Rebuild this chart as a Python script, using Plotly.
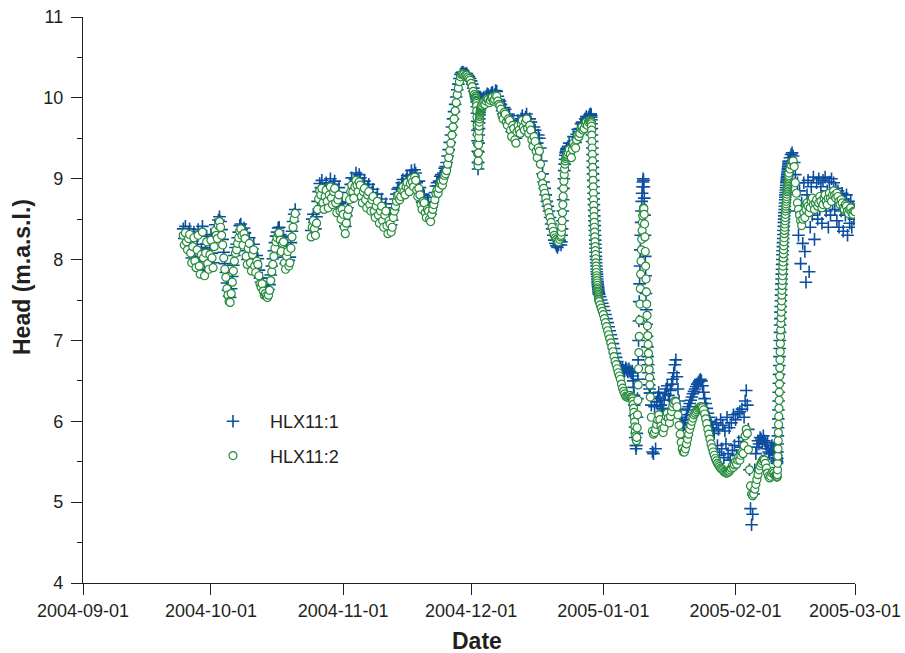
import pandas as pd
import plotly.graph_objects as go

# Groundwater head (m.a.s.l.) at two levels of borehole HLX11.
# Each logging period: start time, sampling interval (hours).
PERIODS = [
    ("2004-09-24 12:00", 6),
    ("2004-10-24 12:00", 6),
    ("2004-12-02 00:00", 1),
    ("2004-12-03 12:00", 6),
    ("2004-12-22 00:00", 2),
    ("2004-12-23 12:00", 6),
    ("2004-12-29 00:00", 1),
    ("2004-12-31 00:00", 6),
    ("2005-01-07 18:00", 2),
    ("2005-01-12 00:00", 6),
    ("2005-02-10 12:00", 1),
    ("2005-02-13 12:00", 6),
]

# ---- HLX11:2 ----
hlx2_sep = [
    8.30, 8.18,
    8.33, 8.22, 8.12, 8.26, 8.31, 8.08, 7.96, 8.16, 8.27, 7.98, 7.90, 8.12,
    8.30, 7.92, 7.82, 8.06, 8.34, 8.02, 7.80, 8.08, 8.22, 7.95, 7.88, 8.06,
    8.24, 8.02, 7.90, 8.16, 8.36, 8.30, 8.26, 8.42, 8.47, 8.40, 8.30, 8.18,
    8.02, 7.88, 7.78, 7.64, 7.56, 7.48, 7.47, 7.58, 7.72, 7.86, 7.98, 8.08,
    8.12, 8.20, 8.27, 8.35, 8.38, 8.30, 8.18, 8.32, 8.26, 8.04, 7.94, 8.14,
    8.20, 7.96, 7.86, 8.06, 8.12, 7.92, 7.84, 7.98, 7.94, 7.80, 7.70, 7.66,
    7.70, 7.61, 7.56, 7.58, 7.55, 7.53, 7.56, 7.62, 7.74, 7.85, 7.94, 8.04,
    8.14, 8.22, 8.27, 8.32, 8.33, 8.24, 8.10, 8.20, 8.22, 7.96, 7.88, 8.04,
    8.10, 7.92, 7.96, 8.14, 8.28, 8.40, 8.50, 8.57,
]
hlx2_nov = [
    8.28, 8.40,
    8.48, 8.38, 8.30, 8.45, 8.62, 8.75, 8.85, 8.80, 8.88, 8.70, 8.62, 8.78,
    8.86, 8.72, 8.64, 8.80, 8.90, 8.76, 8.68, 8.84, 8.88, 8.70, 8.58, 8.74,
    8.80, 8.60, 8.50, 8.62, 8.56, 8.40, 8.32, 8.45, 8.55, 8.62, 8.74, 8.84,
    8.92, 8.84, 8.76, 8.90, 8.98, 8.92, 8.84, 8.96, 8.92, 8.78, 8.70, 8.84,
    8.88, 8.74, 8.64, 8.80, 8.84, 8.68, 8.60, 8.74, 8.78, 8.60, 8.52, 8.66,
    8.72, 8.55, 8.45, 8.60, 8.66, 8.48, 8.40, 8.55, 8.60, 8.42, 8.32, 8.48,
    8.44, 8.34, 8.40, 8.52, 8.60, 8.66, 8.72, 8.78, 8.80, 8.74, 8.78, 8.86,
    8.90, 8.84, 8.80, 8.90, 8.95, 8.88, 8.84, 8.94, 9.00, 8.96, 8.90, 9.02,
    8.98, 8.86, 8.78, 8.88, 8.80, 8.68, 8.62, 8.72, 8.70, 8.58, 8.52, 8.62,
    8.60, 8.50, 8.47, 8.56, 8.62, 8.68, 8.74, 8.82, 8.86, 8.82, 8.88, 8.94,
    8.96, 8.92, 8.98, 9.04, 9.06, 9.10, 9.18, 9.26, 9.35, 9.44, 9.54, 9.64,
    9.74, 9.84, 9.94, 10.04, 10.12, 10.20, 10.26, 10.29, 10.30, 10.29, 10.27, 10.28,
    10.28, 10.26, 10.24, 10.22, 10.18, 10.14, 10.08, 10.04,
]
hlx2_dec02 = [
    10.02, 10.00, 9.99, 9.97, 9.96, 9.95, 9.93, 9.90, 9.84, 9.76, 9.66, 9.55,
    9.43, 9.31, 9.20, 9.16, 9.22, 9.32, 9.42, 9.51, 9.59, 9.65, 9.70, 9.74,
    9.77, 9.79, 9.81, 9.83, 9.84, 9.85, 9.86, 9.87, 9.88, 9.89, 9.90, 9.90,
]
hlx2_dec03 = [
    9.91, 9.93,
    9.95, 9.92, 9.96, 9.99, 9.98, 9.94, 9.97, 10.00, 10.01, 9.96, 9.98, 10.03,
    10.02, 9.96, 9.92, 9.90, 9.86, 9.78, 9.74, 9.82, 9.80, 9.70, 9.66, 9.74,
    9.72, 9.60, 9.52, 9.66, 9.62, 9.48, 9.44, 9.58, 9.66, 9.60, 9.56, 9.68,
    9.72, 9.64, 9.60, 9.70, 9.74, 9.62, 9.56, 9.66, 9.60, 9.48, 9.40, 9.52,
    9.46, 9.34, 9.26, 9.38, 9.34, 9.18, 9.04, 8.94, 8.88, 8.82, 8.76, 8.70,
    8.64, 8.58, 8.52, 8.46, 8.40, 8.35, 8.30, 8.27, 8.25, 8.23, 8.22, 8.25,
]
hlx2_dec22 = [
    8.28, 8.30, 8.34, 8.40, 8.48, 8.58, 8.68, 8.78, 8.88, 8.97, 9.05, 9.12,
    9.18, 9.22, 9.25, 9.27, 9.28, 9.30,
]
hlx2_dec23 = [
    9.30, 9.32,
    9.36, 9.30, 9.26, 9.36, 9.44, 9.40, 9.38, 9.48, 9.54, 9.52, 9.56, 9.62,
    9.64, 9.60, 9.62, 9.68, 9.70, 9.66, 9.70, 9.72,
]
hlx2_dec29 = [
    9.72, 9.72, 9.71, 9.70, 9.68, 9.65, 9.60, 9.54,
    9.46, 9.38, 9.30, 9.22, 9.14, 9.06, 8.98, 8.90,
    8.82, 8.74, 8.67, 8.60, 8.53, 8.46, 8.40, 8.34,
    8.28, 8.22, 8.16, 8.11, 8.06, 8.01, 7.96, 7.92,
    7.88, 7.84, 7.80, 7.77, 7.74, 7.71, 7.68, 7.65,
    7.63, 7.61, 7.59, 7.57, 7.55, 7.53, 7.51, 7.50,
]
hlx2_dec31 = [
    7.48, 7.44, 7.40, 7.36, 7.32, 7.27, 7.22, 7.17, 7.12, 7.07, 7.02, 6.97,
    6.92, 6.86, 6.80, 6.74, 6.70, 6.65, 6.60, 6.56, 6.52, 6.46, 6.41, 6.37,
    6.34, 6.31, 6.30, 6.30, 6.31, 6.32, 6.30,
]
hlx2_jan07 = [
    6.30, 6.28, 6.25, 6.21, 6.16, 6.11, 6.05, 5.99, 5.93, 5.87, 5.82, 5.78,
    5.76, 5.80, 5.92, 6.08, 6.26, 6.45, 6.65, 6.85, 7.05, 7.25, 7.45, 7.64,
    7.82, 7.98, 8.12, 8.25, 8.36, 8.46, 8.54, 8.60, 8.64, 8.63, 8.56, 8.44,
    8.28, 8.10, 7.92, 7.76, 7.60, 7.45, 7.31, 7.18, 7.06, 6.95, 6.84, 6.74,
    6.64, 6.54, 6.45,
]
hlx2_jan12 = [
    6.30, 6.05, 5.88, 5.84, 5.86, 5.90, 5.96, 6.02, 6.08, 6.02, 5.94, 5.90,
    5.86, 5.92, 6.00, 6.06, 6.10, 6.04, 5.98, 6.06, 6.12, 6.18, 6.22, 6.25,
    6.24, 6.18, 6.08, 5.95, 5.84, 5.74, 5.66, 5.62, 5.62, 5.66, 5.72, 5.78,
    5.84, 5.90, 5.95, 6.00, 6.04, 6.08, 6.10, 6.12, 6.14, 6.16, 6.17, 6.18,
    6.18, 6.17, 6.14, 6.09, 6.03, 5.97, 5.90, 5.84, 5.78, 5.72, 5.67, 5.62,
    5.58, 5.54, 5.51, 5.48, 5.46, 5.44, 5.42, 5.41, 5.40, 5.38, 5.37, 5.36,
    5.36, 5.37, 5.38, 5.40, 5.42, 5.45, 5.43, 5.46, 5.50, 5.47, 5.52, 5.56,
    5.52, 5.58, 5.62, 5.60, 5.70, 5.82, 5.90, 5.85, 5.65, 5.40, 5.20, 5.10,
    5.08, 5.10, 5.16, 5.22, 5.28, 5.34, 5.40, 5.45, 5.48, 5.51, 5.53, 5.52,
    5.48, 5.42, 5.36, 5.32, 5.30, 5.32, 5.36, 5.38, 5.36, 5.33,
]
hlx2_feb10 = [
    5.34, 5.33, 5.32, 5.32, 5.31, 5.31, 5.32, 5.34, 5.40, 5.48, 5.57, 5.66,
    5.76, 5.86, 5.96, 6.06, 6.16, 6.26, 6.36, 6.46, 6.56, 6.66, 6.76, 6.86,
    6.96, 7.05, 7.13, 7.21, 7.28, 7.35, 7.42, 7.49, 7.56, 7.62, 7.68, 7.74,
    7.80, 7.86, 7.92, 7.97, 8.02, 8.07, 8.12, 8.17, 8.22, 8.27, 8.32, 8.36,
    8.40, 8.44, 8.48, 8.52, 8.56, 8.60, 8.63, 8.66, 8.69, 8.72, 8.75, 8.78,
    8.81, 8.84, 8.86, 8.88, 8.90, 8.92, 8.94, 8.96, 8.98, 9.00, 9.02, 9.04,
]
hlx2_feb13 = [
    9.07, 9.12,
    9.17, 9.21, 9.22, 9.15, 8.95, 8.82, 8.70, 8.62, 8.55, 8.48, 8.42, 8.50,
    8.58, 8.52, 8.62, 8.70, 8.66, 8.58, 8.64, 8.72, 8.76, 8.68, 8.62, 8.70,
    8.74, 8.66, 8.70, 8.78, 8.72, 8.64, 8.68, 8.76, 8.80, 8.72, 8.68, 8.76,
    8.82, 8.76, 8.72, 8.80, 8.85, 8.80, 8.76, 8.82, 8.78, 8.72, 8.68, 8.74,
    8.70, 8.64, 8.62, 8.68, 8.66, 8.60, 8.57, 8.62, 8.64, 8.58, 8.56, 8.60,
    8.59,
]

# ---- HLX11:1 ----
hlx1_sep = [
    8.38, 8.26,
    8.41, 8.29, 8.18, 8.33, 8.38, 8.14, 8.02, 8.23, 8.34, 8.04, 7.96, 8.19,
    8.37, 7.98, 7.88, 8.13, 8.41, 8.08, 7.86, 8.15, 8.29, 8.01, 7.94, 8.13,
    8.31, 8.08, 7.96, 8.23, 8.43, 8.37, 8.33, 8.49, 8.53, 8.47, 8.37, 8.25,
    8.09, 7.95, 7.84, 7.71, 7.62, 7.55, 7.53, 7.64, 7.79, 7.93, 8.05, 8.15,
    8.19, 8.27, 8.34, 8.42, 8.44, 8.37, 8.25, 8.39, 8.33, 8.11, 8.00, 8.21,
    8.27, 8.03, 7.92, 8.13, 8.19, 7.99, 7.90, 8.05, 8.01, 7.87, 7.77, 7.72,
    7.77, 7.68, 7.62, 7.65, 7.62, 7.60, 7.63, 7.69, 7.81, 7.92, 8.01, 8.11,
    8.21, 8.29, 8.34, 8.39, 8.40, 8.31, 8.17, 8.27, 8.29, 8.03, 7.95, 8.11,
    8.17, 7.99, 8.03, 8.21, 8.35, 8.47, 8.56, 8.62,
]
hlx1_nov = [
    8.36, 8.50,
    8.56, 8.46, 8.38, 8.53, 8.72, 8.84, 8.94, 8.89, 8.98, 8.79, 8.71, 8.87,
    8.95, 8.81, 8.73, 8.89, 9.00, 8.85, 8.77, 8.93, 8.97, 8.79, 8.67, 8.83,
    8.89, 8.69, 8.59, 8.71, 8.65, 8.49, 8.41, 8.54, 8.64, 8.71, 8.83, 8.93,
    9.01, 8.93, 8.85, 8.99, 9.07, 9.01, 8.93, 9.05, 9.01, 8.87, 8.79, 8.93,
    8.97, 8.83, 8.73, 8.89, 8.93, 8.77, 8.69, 8.83, 8.87, 8.69, 8.61, 8.75,
    8.81, 8.64, 8.54, 8.69, 8.75, 8.57, 8.49, 8.64, 8.69, 8.51, 8.41, 8.57,
    8.53, 8.43, 8.49, 8.61, 8.69, 8.75, 8.81, 8.87, 8.89, 8.83, 8.87, 8.95,
    8.99, 8.93, 8.89, 8.99, 9.04, 8.97, 8.93, 9.03, 9.10, 9.05, 8.99, 9.11,
    9.07, 8.95, 8.87, 8.97, 8.89, 8.77, 8.71, 8.81, 8.79, 8.67, 8.61, 8.71,
    8.69, 8.59, 8.56, 8.65, 8.71, 8.77, 8.83, 8.91, 8.95, 8.91, 8.97, 9.03,
    9.05, 9.01, 9.07, 9.13, 9.15, 9.20, 9.28, 9.36, 9.45, 9.54, 9.64, 9.74,
    9.83, 9.92, 10.01, 10.10, 10.17, 10.24, 10.29, 10.31, 10.32, 10.31, 10.29, 10.30,
    10.30, 10.28, 10.26, 10.24, 10.21, 10.17, 10.12, 10.08,
]
hlx1_dec02 = [
    10.07, 10.05, 10.04, 10.02, 10.01, 10.00, 9.98, 9.95, 9.89, 9.81, 9.71, 9.60,
    9.47, 9.34, 9.20, 9.12, 9.20, 9.33, 9.44, 9.54, 9.62, 9.69, 9.74, 9.79,
    9.82, 9.85, 9.87, 9.89, 9.90, 9.91, 9.92, 9.93, 9.94, 9.95, 9.96, 9.96,
]
hlx1_dec03 = [
    9.97, 9.99,
    10.01, 9.98, 10.02, 10.05, 10.04, 10.00, 10.03, 10.06, 10.07, 10.02, 10.04, 10.09,
    10.08, 10.02, 9.98, 9.96, 9.92, 9.84, 9.80, 9.88, 9.86, 9.76, 9.72, 9.80,
    9.78, 9.66, 9.58, 9.72, 9.68, 9.54, 9.50, 9.64, 9.72, 9.66, 9.62, 9.74,
    9.78, 9.70, 9.66, 9.76, 9.80, 9.70, 9.64, 9.74, 9.70, 9.60, 9.54, 9.64,
    9.60, 9.50, 9.44, 9.54, 9.50, 9.38, 9.22, 9.06, 8.96, 8.88, 8.80, 8.72,
    8.66, 8.60, 8.52, 8.44, 8.38, 8.30, 8.24, 8.20, 8.17, 8.15, 8.18, 8.24,
]
hlx1_dec22 = [
    8.22, 8.18, 8.22, 8.30, 8.38, 8.48, 8.60, 8.74, 8.88, 9.00, 9.10, 9.18,
    9.24, 9.29, 9.32, 9.34, 9.36, 9.37,
]
hlx1_dec23 = [
    9.38, 9.40,
    9.44, 9.38, 9.34, 9.44, 9.52, 9.47, 9.45, 9.55, 9.61, 9.58, 9.62, 9.68,
    9.70, 9.66, 9.68, 9.74, 9.77, 9.72, 9.76, 9.79,
]
hlx1_dec29 = [
    9.80, 9.80, 9.79, 9.78, 9.76, 9.73, 9.68, 9.62,
    9.54, 9.46, 9.38, 9.30, 9.22, 9.14, 9.06, 8.98,
    8.90, 8.82, 8.75, 8.68, 8.61, 8.54, 8.48, 8.42,
    8.36, 8.30, 8.24, 8.19, 8.14, 8.09, 8.04, 8.00,
    7.96, 7.92, 7.88, 7.85, 7.82, 7.79, 7.76, 7.73,
    7.71, 7.69, 7.67, 7.65, 7.63, 7.61, 7.59, 7.58,
]
hlx1_dec31 = [
    7.57, 7.54, 7.50, 7.46, 7.42, 7.37, 7.32, 7.27, 7.22, 7.17, 7.12, 7.07,
    7.02, 6.96, 6.90, 6.84, 6.79, 6.74, 6.70, 6.68, 6.66, 6.64, 6.66, 6.63,
    6.62, 6.66, 6.64, 6.61, 6.65, 6.62, 6.60,
]
hlx1_jan07 = [
    6.62, 6.60, 6.56, 6.50, 6.42, 6.32, 6.20, 6.07, 5.93, 5.80, 5.70, 5.66,
    5.70, 5.85, 6.05, 6.28, 6.52, 6.76, 7.00, 7.24, 7.48, 7.70, 7.92, 8.12,
    8.30, 8.46, 8.60, 8.72, 8.82, 8.90, 8.96, 9.00, 8.98, 8.90, 8.76, 8.55,
    8.30, 8.04, 7.80, 7.58, 7.38, 7.20, 7.05, 6.92, 6.80, 6.70, 6.60, 6.52,
    6.45, 6.40, 6.35,
]
hlx1_jan12 = [
    6.35, 6.20, 5.62, 5.60, 6.18, 5.66, 6.24, 6.30, 6.36, 6.28, 6.20, 6.16,
    6.14, 6.26, 6.34, 6.40, 6.44, 6.32, 6.26, 6.38, 6.46, 6.52, 6.60, 6.70,
    6.76, 6.55, 6.40, 6.25, 6.15, 6.05, 5.98, 5.95, 5.96, 6.02, 6.08, 6.14,
    6.18, 6.22, 6.26, 6.30, 6.34, 6.37, 6.40, 6.43, 6.46, 6.48, 6.50, 6.52,
    6.50, 6.44, 6.36, 6.28, 6.22, 6.16, 6.10, 6.05, 6.00, 5.96, 5.92, 5.88,
    5.85, 5.62, 5.98, 5.70, 5.90, 5.58, 6.02, 5.66, 5.95, 5.55, 5.88, 5.72,
    6.05, 5.60, 5.92, 5.52, 5.98, 5.64, 6.08, 5.70, 6.02, 5.58, 6.10, 5.75,
    6.12, 5.68, 6.15, 5.80, 6.05, 6.25, 6.38, 6.20, 5.90, 5.40, 4.92, 4.72,
    4.85, 5.10, 5.40, 5.60, 5.68, 5.76, 5.72, 5.80, 5.78, 5.74, 5.82, 5.76,
    5.72, 5.66, 5.74, 5.62, 5.60, 5.66, 5.70, 5.64, 5.66, 5.60,
]
hlx1_feb10 = [
    5.62, 5.58, 5.55, 5.52, 5.50, 5.48, 5.50, 5.54, 5.62, 5.72, 5.82, 5.92,
    6.03, 6.14, 6.25, 6.36, 6.47, 6.58, 6.69, 6.80, 6.90, 7.00, 7.10, 7.19,
    7.27, 7.35, 7.42, 7.49, 7.56, 7.63, 7.70, 7.76, 7.82, 7.88, 7.94, 8.00,
    8.06, 8.11, 8.16, 8.21, 8.26, 8.31, 8.36, 8.41, 8.46, 8.50, 8.54, 8.58,
    8.62, 8.66, 8.70, 8.74, 8.77, 8.80, 8.83, 8.86, 8.89, 8.92, 8.95, 8.97,
    8.99, 9.01, 9.03, 9.05, 9.07, 9.09, 9.11, 9.13, 9.15, 9.17, 9.19, 9.21,
]
hlx1_feb13 = [
    9.22, 9.26,
    9.30, 9.32, 9.28, 9.20, 9.05, 8.60, 8.95, 8.30, 8.85, 7.95, 8.70, 8.20,
    8.95, 8.10, 7.72, 8.80, 8.98, 7.85, 8.40, 8.90, 8.55, 9.02, 8.25, 8.70,
    8.95, 8.50, 9.00, 8.62, 8.90, 8.45, 8.98, 8.70, 9.02, 8.60, 8.85, 8.40,
    8.96, 8.55, 9.00, 8.70, 8.95, 8.62, 8.88, 8.48, 8.85, 8.40, 8.78, 8.60,
    8.82, 8.35, 8.75, 8.55, 8.80, 8.30, 8.68, 8.45, 8.72, 8.40, 8.65, 8.50,
    8.62,
]

hlx1_parts = [hlx1_sep, hlx1_nov, hlx1_dec02, hlx1_dec03, hlx1_dec22, hlx1_dec23,
              hlx1_dec29, hlx1_dec31, hlx1_jan07, hlx1_jan12, hlx1_feb10, hlx1_feb13]
hlx2_parts = [hlx2_sep, hlx2_nov, hlx2_dec02, hlx2_dec03, hlx2_dec22, hlx2_dec23,
              hlx2_dec29, hlx2_dec31, hlx2_jan07, hlx2_jan12, hlx2_feb10, hlx2_feb13]


def build(parts):
    times, heads = [], []
    for (start, step), vals in zip(PERIODS, parts):
        times.extend(pd.date_range(start, periods=len(vals), freq=f"{step}h"))
        heads.extend(vals)
    return times, heads


t1, h1 = build(hlx1_parts)
t2, h2 = build(hlx2_parts)

BLUE = "#0c4fa0"
GREEN = "#248a3a"
INK = "#231f20"
FONT = "Liberation Sans, Arial, sans-serif"

fig = go.Figure()
fig.add_trace(go.Scatter(
    x=t1, y=h1, mode="markers", name="HLX11:1", legendgroup="a",
    marker=dict(symbol="cross-thin", size=9, line=dict(color=BLUE, width=1.6)),
))
fig.add_trace(go.Scatter(
    x=t2, y=h2, mode="markers", name="HLX11:2", legendgroup="b",
    marker=dict(symbol="circle", size=8, color="white",
                line=dict(color=GREEN, width=1.2)),
))

fig.update_layout(
    width=905, height=653,
    margin=dict(l=83, r=50, t=17, b=70),
    paper_bgcolor="white", plot_bgcolor="white",
    font=dict(family=FONT, size=18, color=INK),
    showlegend=True,
    legend=dict(x=(196 - 83) / 772, y=(583 - 403) / 566, xanchor="left", yanchor="top",
                bgcolor="rgba(0,0,0,0)", itemwidth=64, tracegroupgap=8,
                traceorder="grouped", font=dict(size=18, color=INK)),
    annotations=[
        dict(text="<b>Date</b>", x=(477 - 83) / 772, y=(583 - 641) / 566,
             xref="paper", yref="paper", showarrow=False,
             xanchor="center", yanchor="middle", font=dict(size=23, color=INK)),
        dict(text="<b>Head (m.a.s.l.)</b>", x=(22 - 83) / 772, y=(583 - 277) / 566,
             xref="paper", yref="paper", showarrow=False, textangle=-90,
             xanchor="center", yanchor="middle", font=dict(size=23, color=INK)),
    ],
)

fig.update_xaxes(
    type="date", range=["2004-09-01", "2005-03-01"],
    tick0="2004-09-01", dtick="M1", tickformat="%Y-%m-%d",
    automargin=False,
    showgrid=False, zeroline=False,
    showline=True, linecolor=INK, linewidth=1.3,
    ticks="outside", ticklen=11, tickwidth=1.3, tickcolor=INK,
    tickfont=dict(size=18, color=INK),
)
fig.update_yaxes(
    range=[4, 11], tick0=4, dtick=1,
    automargin=False,
    showgrid=False, zeroline=False,
    showline=True, linecolor=INK, linewidth=1.3,
    ticks="outside", ticklen=11, tickwidth=1.3, tickcolor=INK,
    ticklabelstandoff=4,
    tickfont=dict(size=18, color=INK),
    minor=dict(dtick=0.5, ticks="outside", ticklen=5, tickwidth=1.3, tickcolor=INK),
)

fig.write_html("out.html")
